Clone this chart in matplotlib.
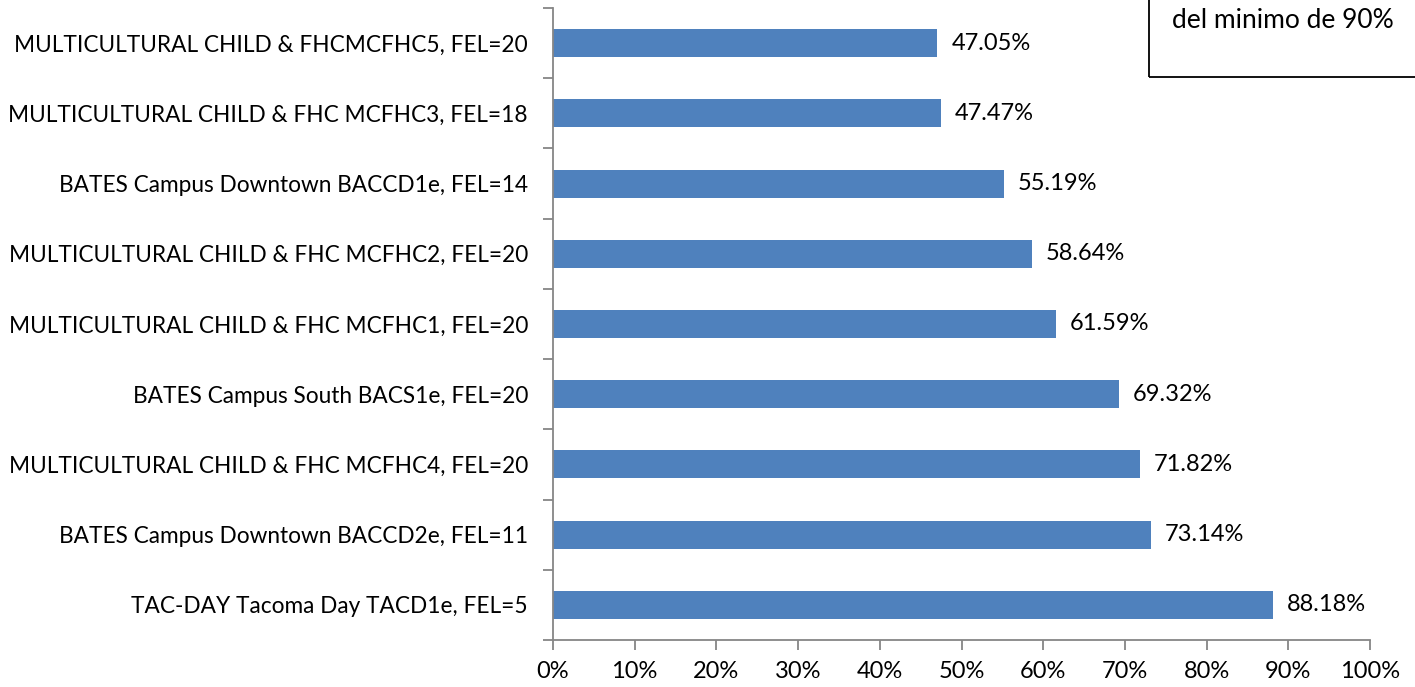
import matplotlib.pyplot as plt
import matplotlib.patches as mpatches
import numpy as np

plt.rcParams['font.family'] = ['Lato', 'DejaVu Sans']

# Data (top to bottom as shown)
categories = [
    'MULTICULTURAL CHILD & FHCMCFHC5, FEL=20',
    'MULTICULTURAL CHILD & FHC MCFHC3, FEL=18',
    'BATES Campus Downtown BACCD1e, FEL=14',
    'MULTICULTURAL CHILD & FHC MCFHC2, FEL=20',
    'MULTICULTURAL CHILD & FHC MCFHC1, FEL=20',
    'BATES Campus South BACS1e, FEL=20',
    'MULTICULTURAL CHILD & FHC MCFHC4, FEL=20',
    'BATES Campus Downtown BACCD2e, FEL=11',
    'TAC-DAY Tacoma Day TACD1e, FEL=5',
]
values = [47.05, 47.47, 55.19, 58.64, 61.59, 69.32, 71.82, 73.14, 88.18]
x_ticks = list(range(0, 101, 10))
note_text = 'del minimo de 90%'

fig = plt.figure(figsize=(14.15, 6.87), dpi=100)
ax = fig.add_axes([553 / 1415, 1 - 640 / 687, (1370 - 553) / 1415, (640 - 8) / 687])

n = len(categories)
ypos = np.arange(n)
bar_color = '#4F81BD'
axis_color = '#868686'

ax.barh(ypos, values, height=0.4, color=bar_color)
for y, v in zip(ypos, values):
    ax.text(v + 1.7, y, f'{v:.2f}%', va='center', ha='left', fontsize=17, color='black')

ax.set_xlim(0, 100)
ax.set_ylim(n - 0.5, -0.5)
ax.set_xticks(x_ticks)
ax.set_xticklabels([f'{t}%' for t in x_ticks], fontsize=17)
ax.set_yticks(ypos)
ax.set_yticklabels(categories, fontsize=16.3)
ax.set_yticks(np.arange(n + 1) - 0.5, minor=True)

ax.tick_params(axis='y', which='major', length=0, pad=18)
ax.tick_params(axis='y', which='minor', length=7, color=axis_color, width=1.3)
ax.tick_params(axis='x', which='major', length=7, color=axis_color, width=1.3, pad=8)

for side in ['top', 'right']:
    ax.spines[side].set_visible(False)
for side in ['left', 'bottom']:
    ax.spines[side].set_color(axis_color)
    ax.spines[side].set_linewidth(1.3)

# Note box at top right (partly cut off by the figure edge)
box = mpatches.Rectangle((1149 / 1415, 1 - 77 / 687), 0.3, 0.3, transform=fig.transFigure,
                         fill=False, edgecolor='black', linewidth=1.3, clip_on=False)
fig.patches.append(box)
fig.text(1283 / 1415, 1 - 21 / 687, note_text, ha='center', va='center', fontsize=19)

fig.savefig('out.png', dpi=100)
